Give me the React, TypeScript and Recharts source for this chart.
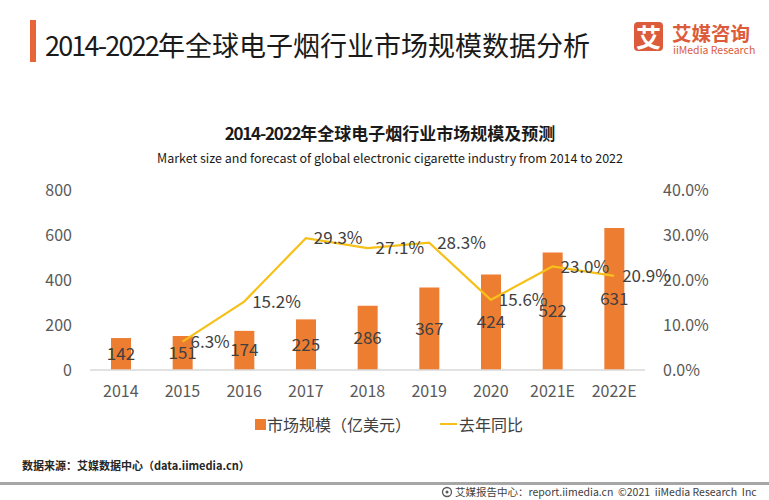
import React from 'react';
import { ComposedChart, Bar, Line, XAxis, YAxis, LabelList } from 'recharts';

const categories = ['2014', '2015', '2016', '2017', '2018', '2019', '2020', '2021E', '2022E'];
const marketSize = [142, 151, 174, 225, 286, 367, 424, 522, 631];
const growth: (number | null)[] = [null, 6.3, 15.2, 29.3, 27.1, 28.3, 15.6, 23.0, 20.9];
const leftTicks = [0, 200, 400, 600, 800];
const rightTicks = [0, 10, 20, 30, 40];

const data = categories.map((c, i) => ({ name: c, size: marketSize[i], growth: growth[i] }));

const FONT = '"Noto Sans CJK SC", "Noto Sans", sans-serif';
const ORANGE = '#ED7D31';
const GOLD = '#F7C019';

export default function App() {
  return (
    <div style={{ position: 'absolute', left: 0, top: 0, width: 769, height: 500, background: '#fff', fontFamily: FONT, overflow: 'hidden' }}>
      {/* header */}
      <div style={{ position: 'absolute', left: 30, top: 20, width: 6, height: 42, background: '#E8653A' }} />
      <div style={{ position: 'absolute', left: 45, top: 26, fontSize: 27, color: '#1a1a1a', lineHeight: '38px', whiteSpace: 'nowrap' }}>
        <span style={{ letterSpacing: -1.8 }}>2014-2022</span>年全球电子烟行业市场规模数据分析
      </div>
      <div style={{ position: 'absolute', left: 634, top: 22, width: 29, height: 29, borderRadius: 4, background: '#DC5B3A', color: '#fff', fontSize: 25, lineHeight: '29px', textAlign: 'center', fontWeight: 700 }}>艾</div>
      <div style={{ position: 'absolute', left: 672, top: 22, fontSize: 19.5, color: '#DC5B3A', lineHeight: '21px', whiteSpace: 'nowrap', fontWeight: 700 }}>艾媒咨询</div>
      <div style={{ position: 'absolute', left: 673, top: 44, fontSize: 10.5, color: '#DC5B3A', lineHeight: '12px', whiteSpace: 'nowrap' }}>iiMedia Research</div>

      {/* chart titles */}
      <div style={{ position: 'absolute', left: 0, width: 780, top: 121, textAlign: 'center', fontSize: 17, fontWeight: 700, color: '#1a1a1a', lineHeight: '24px' }}>
        <span style={{ letterSpacing: -1.2 }}>2014-2022</span>年全球电子烟行业市场规模及预测
      </div>
      <div style={{ position: 'absolute', left: 0, width: 780, top: 149, textAlign: 'center', fontSize: 12.5, color: '#1a1a1a', lineHeight: '18px' }}>
        Market size and forecast of global electronic cigarette industry from 2014 to 2022
      </div>

      <div style={{ position: 'absolute', left: 0, top: 0 }}>
        <ComposedChart width={769} height={500} data={data} margin={{ top: 190, right: 24, bottom: 100, left: 0 }}>
          <XAxis dataKey="name" tickLine={false} axisLine={{ stroke: '#D9D9D9', strokeWidth: 1.5 }} tick={{ fill: '#595959', fontSize: 16, fontFamily: FONT }} tickMargin={10} height={30} interval={0} />
          <YAxis yAxisId="left" orientation="left" width={90} domain={[0, 800]} ticks={leftTicks} tickLine={false} axisLine={false} tickMargin={12} tick={{ fill: '#595959', fontSize: 16, fontFamily: FONT }} />
          <YAxis yAxisId="right" orientation="right" width={100} domain={[0, 40]} ticks={rightTicks} tickLine={false} axisLine={false} tickMargin={12} tickFormatter={(v: number) => v.toFixed(1) + '%'} tick={{ fill: '#595959', fontSize: 16, fontFamily: FONT, textAnchor: 'start' }} />
          <Bar yAxisId="left" dataKey="size" fill={ORANGE} barSize={20} isAnimationActive={false}>
            <LabelList dataKey="size" position="center" fill="#404040" fontSize={17} fontFamily={FONT} />
          </Bar>
          <Line yAxisId="right" dataKey="growth" type="linear" stroke={GOLD} strokeWidth={2.2} dot={false} activeDot={false} isAnimationActive={false} connectNulls={false}>
            <LabelList dataKey="growth" position="right" offset={8} fill="#404040" fontSize={17} fontFamily={FONT} formatter={(v: any) => (v == null ? '' : Number(v).toFixed(1) + '%')} />
          </Line>
        </ComposedChart>
      </div>

      {/* legend */}
      <div style={{ position: 'absolute', left: 255, top: 419, width: 11, height: 11, background: ORANGE }} />
      <div style={{ position: 'absolute', left: 267, top: 412, fontSize: 16, color: '#404040', lineHeight: '24px', whiteSpace: 'nowrap' }}>市场规模（亿美元）</div>
      <div style={{ position: 'absolute', left: 440, top: 423, width: 17, height: 2, background: GOLD }} />
      <div style={{ position: 'absolute', left: 459, top: 412, fontSize: 16, color: '#404040', lineHeight: '24px', whiteSpace: 'nowrap' }}>去年同比</div>

      {/* footer */}
      <div style={{ position: 'absolute', left: 22, top: 457, fontSize: 11, color: '#262626', lineHeight: '16px', whiteSpace: 'nowrap', fontWeight: 700 }}>数据来源：艾媒数据中心（data.iimedia.cn）</div>
      <div style={{ position: 'absolute', left: 0, top: 482, width: 769, height: 3, background: '#A6A6A6' }} />
      <svg style={{ position: 'absolute', left: 441, top: 486 }} width={12} height={12}>
        <circle cx={6} cy={6} r={4.5} fill="none" stroke="#595959" strokeWidth={1.3} />
        <circle cx={6} cy={6} r={1.5} fill="#595959" />
      </svg>
      <div style={{ position: 'absolute', left: 455, top: 484, fontSize: 10.5, color: '#404040', lineHeight: '15px', whiteSpace: 'nowrap' }}>艾媒报告中心：report.iimedia.cn&nbsp;&nbsp;©2021&nbsp;&nbsp;iiMedia Research&nbsp;&nbsp;Inc</div>
    </div>
  );
}
